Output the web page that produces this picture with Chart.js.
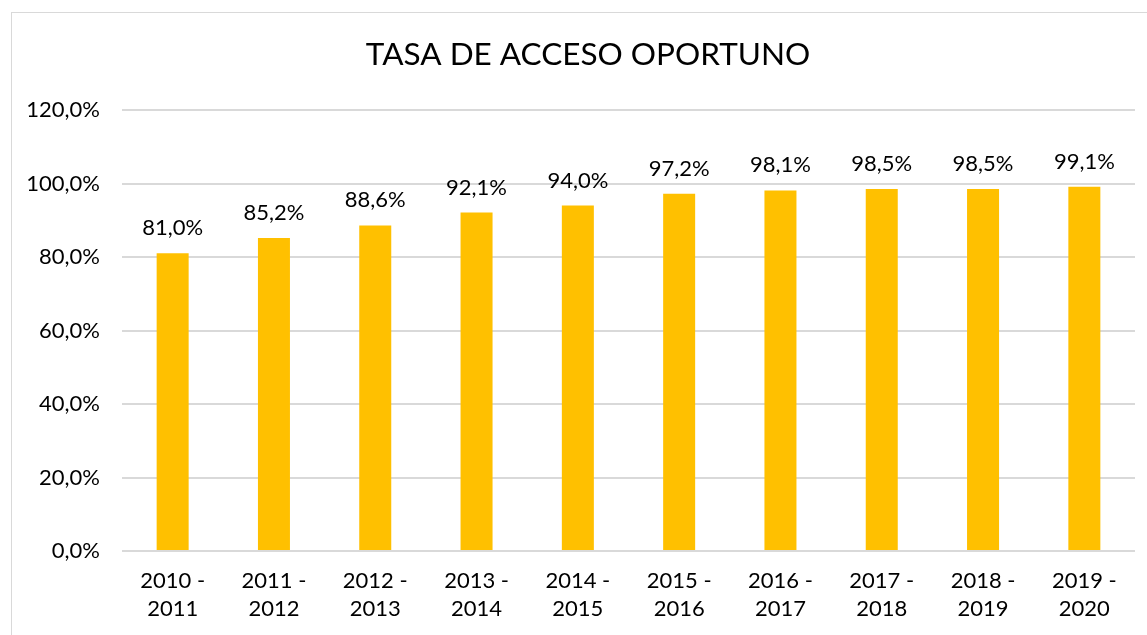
<!DOCTYPE html>
<html>
<head>
<meta charset="utf-8">
<script src="https://cdn.jsdelivr.net/npm/chart.js@4/dist/chart.umd.min.js"></script>
<style>
  html, body { margin: 0; padding: 0; background: #fff; overflow: hidden; width: 1147px; height: 635px; }
  #wrap { position: absolute; left: 0; top: 0; width: 1147px; height: 635px; }
  #frame { position: absolute; left: 11px; top: 12px; width: 1160px; height: 660px; border: 1px solid #D9D9D9; box-sizing: border-box; }
</style>
</head>
<body>
<div id="frame"></div>
<div id="wrap"><canvas id="c"></canvas></div>
<script>
const categories = [
  ["2010 -", "2011"], ["2011 -", "2012"], ["2012 -", "2013"], ["2013 -", "2014"], ["2014 -", "2015"],
  ["2015 -", "2016"], ["2016 -", "2017"], ["2017 -", "2018"], ["2018 -", "2019"], ["2019 -", "2020"]
];
const rates = [81.0, 85.2, 88.6, 92.1, 94.0, 97.2, 98.1, 98.5, 98.5, 99.1];
const titleText = "TASA DE ACCESO OPORTUNO";

const fmt = v => v.toFixed(1).replace('.', ',') + '%';
const FONT = 'Lato';

const labelPlugin = {
  id: 'barLabels',
  afterDatasetsDraw(chart) {
    const ctx = chart.ctx;
    const meta = chart.getDatasetMeta(0);
    ctx.save();
    ctx.font = '22px ' + FONT;
    ctx.fillStyle = '#000';
    ctx.textAlign = 'center';
    ctx.textBaseline = 'alphabetic';
    meta.data.forEach((bar, i) => {
      ctx.fillText(fmt(chart.data.datasets[0].data[i]), bar.x, bar.y - 18);
    });
    ctx.restore();
  }
};

// Title centred over the whole Excel chart frame (which extends beyond the right edge)
const titlePlugin = {
  id: 'frameTitle',
  afterDraw(chart) {
    const ctx = chart.ctx;
    ctx.save();
    ctx.font = '31.5px ' + FONT;
    ctx.fillStyle = '#000';
    ctx.textAlign = 'center';
    ctx.textBaseline = 'middle';
    ctx.fillText(titleText, 588, 55);
    ctx.restore();
  }
};

new Chart(document.getElementById('c'), {
  type: 'bar',
  data: {
    labels: categories,
    datasets: [{
      data: rates,
      backgroundColor: '#FFC000',
      borderWidth: 0,
      barPercentage: 0.316,
      categoryPercentage: 1.0
    }]
  },
  options: {
    responsive: true,
    maintainAspectRatio: false,
    animation: false,
    layout: { padding: { left: 11, right: 12, top: 110, bottom: 0 } },
    plugins: {
      legend: { display: false },
      tooltip: { enabled: false },
      title: { display: false }
    },
    scales: {
      x: {
        grid: { display: false, drawTicks: false },
        border: { display: false },
        ticks: {
          color: '#000',
          font: { family: FONT, size: 22, lineHeight: 1.27 },
          padding: 16,
          maxRotation: 0,
          autoSkip: false
        },
        afterFit(scale) { scale.height = 84; }
      },
      y: {
        min: 0,
        max: 120,
        grid: { color: '#D9D9D9', lineWidth: 2, drawTicks: false },
        border: { display: false },
        ticks: {
          stepSize: 20,
          color: '#000',
          font: { family: FONT, size: 22 },
          padding: 22,
          callback: v => fmt(v)
        },
        afterFit(scale) { scale.width = 111; }
      }
    }
  },
  plugins: [labelPlugin, titlePlugin]
});
</script>
</body>
</html>
